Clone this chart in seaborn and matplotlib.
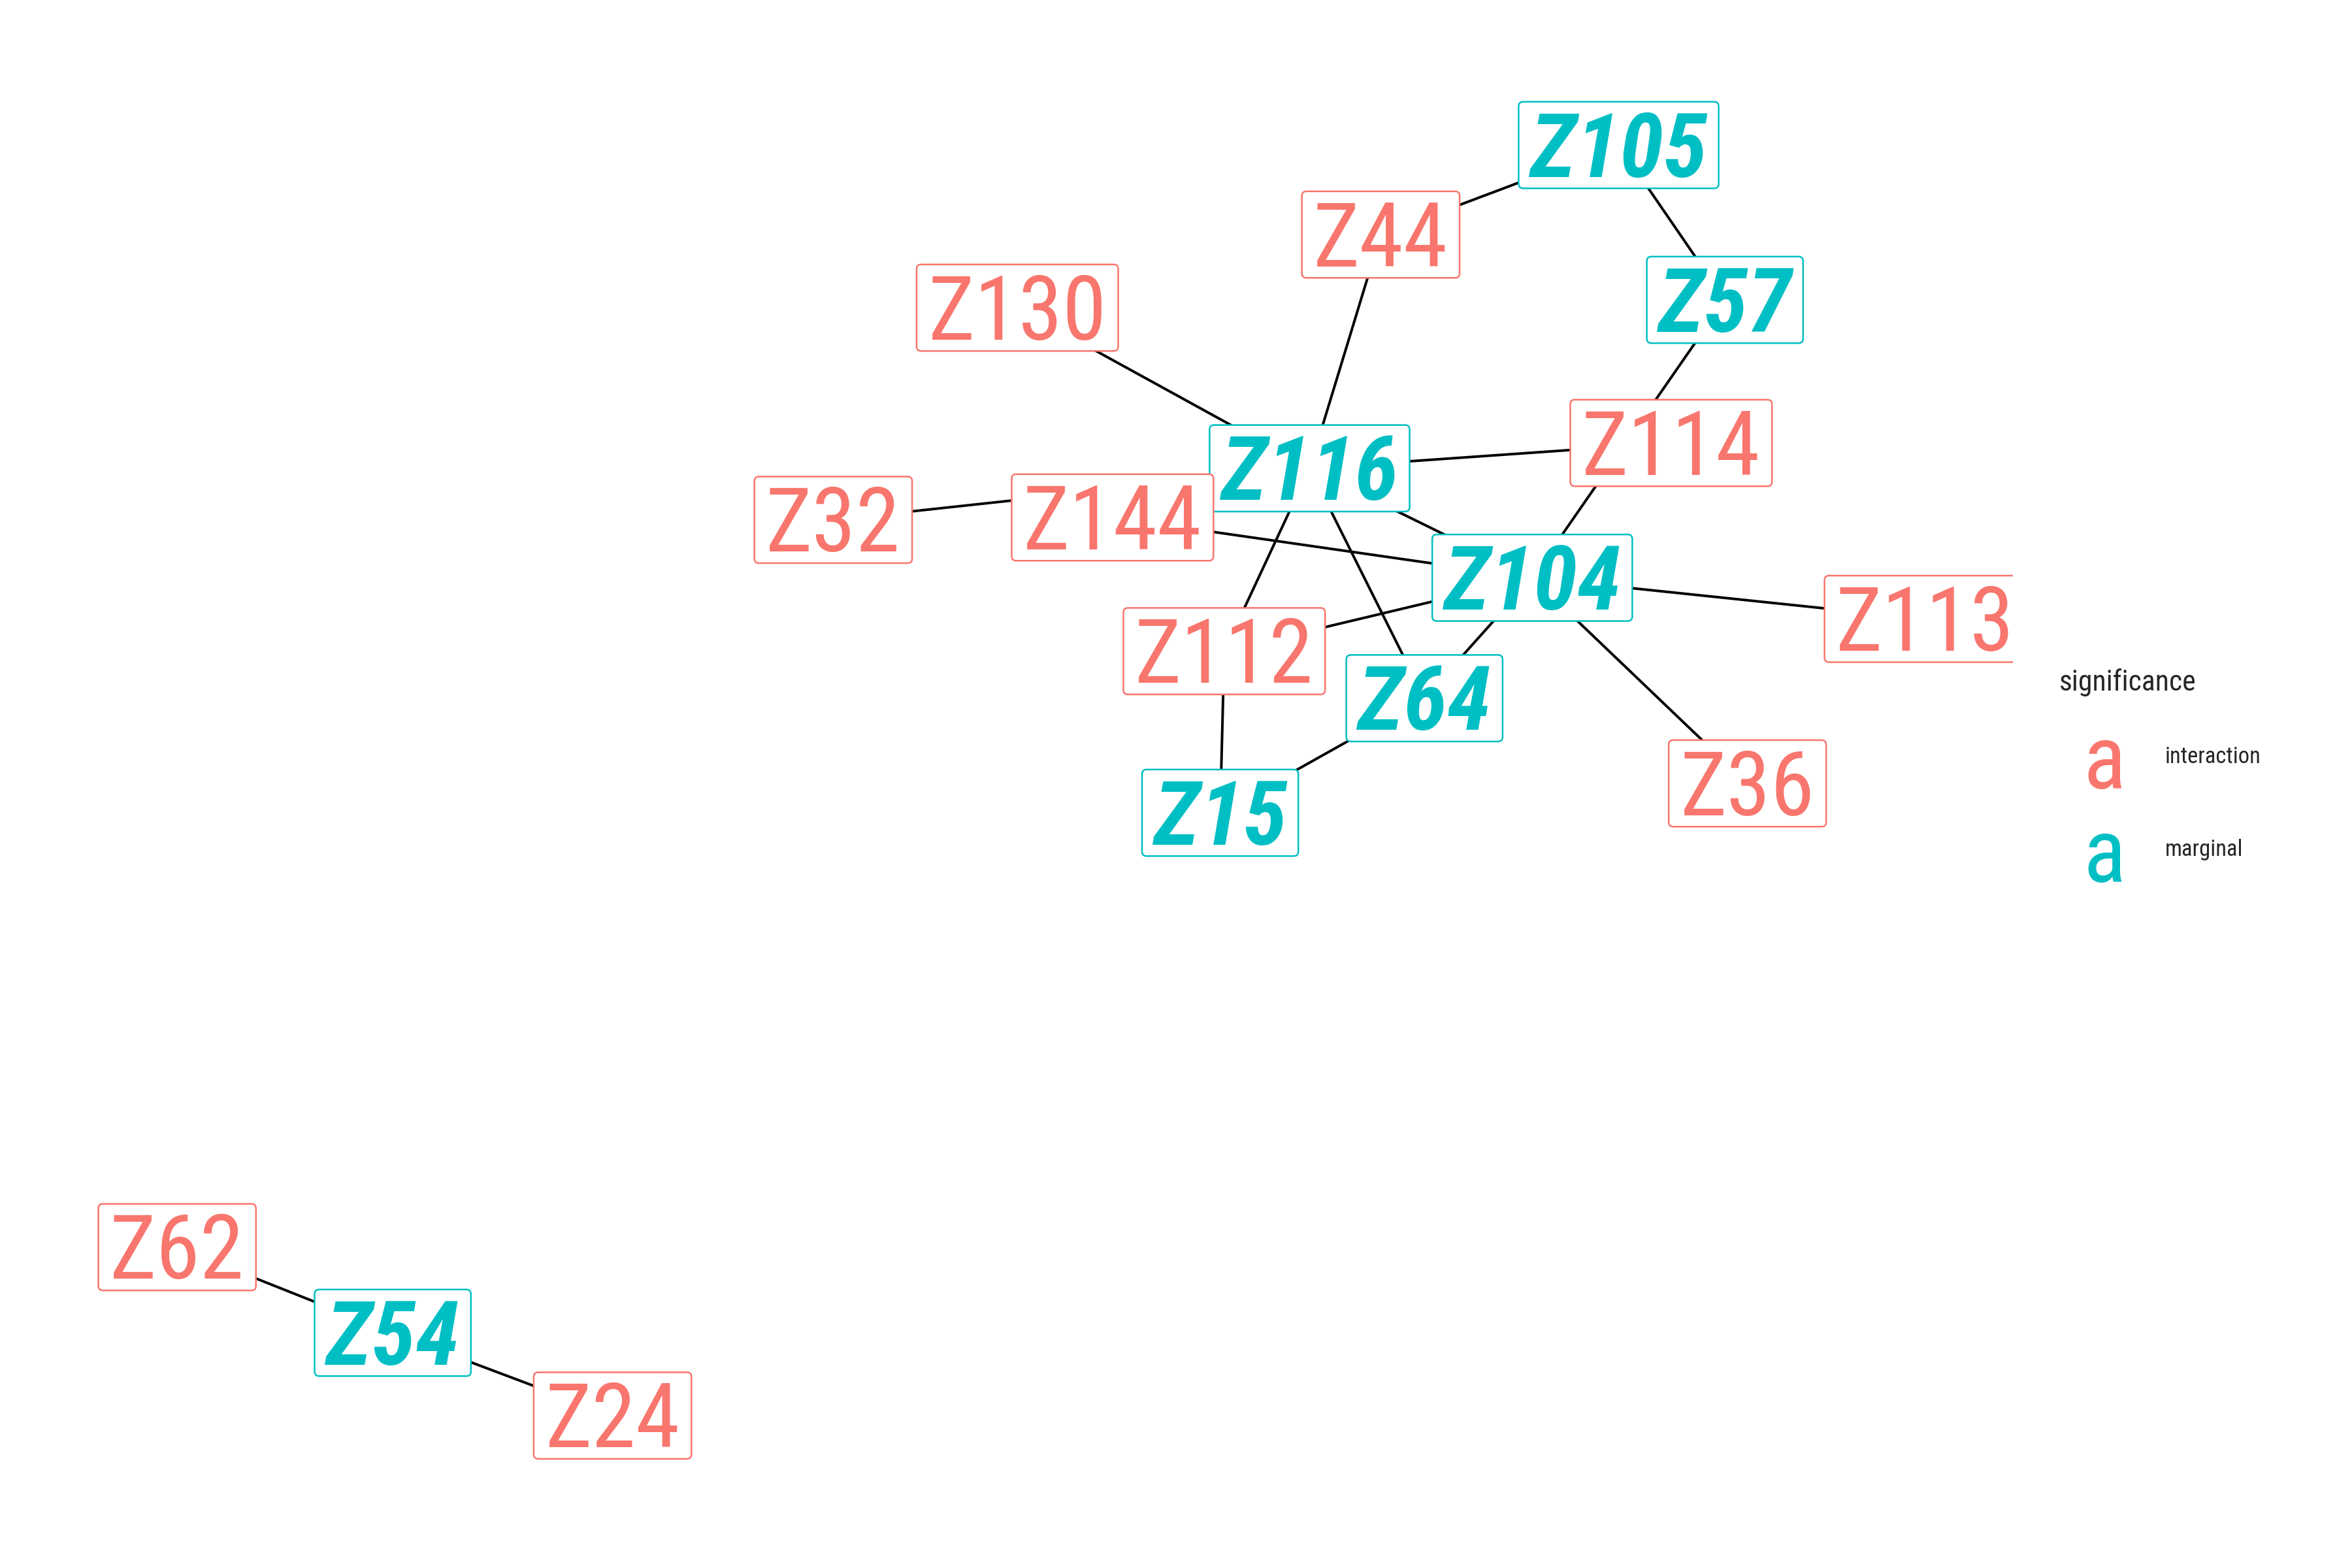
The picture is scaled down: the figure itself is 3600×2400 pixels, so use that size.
import matplotlib
matplotlib.use("Agg")
from matplotlib import pyplot as plt
from matplotlib import font_manager as fm
from matplotlib.patches import FancyBboxPatch
from matplotlib.textpath import TextPath
import pandas as pd
import seaborn as sns

# network nodes (layout coordinates, y grows downwards)
nodes = ["Z105", "Z44", "Z57", "Z130", "Z114", "Z116", "Z32", "Z144", "Z104",
         "Z113", "Z112", "Z64", "Z36", "Z15", "Z62", "Z54", "Z24"]
layout_x = [1073.6, 915.8, 1144.1, 674.8, 1108.4, 868.6, 552.7, 737.9, 1016.3,
            1277.0, 812.0, 944.8, 1159.0, 809.3, 117.5, 260.5, 406.3]
layout_y = [96.2, 155.6, 198.9, 204.1, 293.8, 310.6, 344.8, 343.2, 383.2,
            410.5, 431.9, 463.1, 519.6, 539.1, 827.2, 884.0, 938.9]
significance = ["marginal", "interaction", "marginal", "interaction", "interaction",
                "marginal", "interaction", "interaction", "marginal", "interaction",
                "interaction", "marginal", "interaction", "marginal", "interaction",
                "marginal", "interaction"]

# edges
edge_from = ["Z44", "Z105", "Z57", "Z104", "Z130", "Z44", "Z116", "Z32", "Z144",
             "Z116", "Z116", "Z116", "Z112", "Z104", "Z104", "Z112", "Z15", "Z62", "Z54"]
edge_to = ["Z105", "Z57", "Z104", "Z64", "Z116", "Z116", "Z114", "Z116", "Z104",
           "Z104", "Z112", "Z64", "Z104", "Z113", "Z36", "Z15", "Z64", "Z54", "Z24"]

levels = ["interaction", "marginal"]
palette = {"interaction": "#F8766D", "marginal": "#00BFC4"}

sns.set_theme(style="white")
plt.rcParams["font.family"] = ["Liberation Sans", "DejaVu Sans"]


# the reference uses a narrow sans; look for a condensed face if one is installed
def condensed_fonts():
    cond = [f for f in fm.fontManager.ttflist
            if "Narrow" in f.name or "Condensed" in f.name
            or str(f.stretch) in ("condensed", "semi-condensed")]
    prefs = ["Liberation Sans Narrow", "Roboto Condensed", "Open Sans Condensed",
             "Noto Sans", "Noto Sans Condensed", "DejaVu Sans", "DejaVu Sans Condensed"]
    for p in prefs:
        faces = [f for f in cond if f.name == p]
        if not faces:
            continue
        reg = [f for f in faces if f.style == "normal" and f.weight in (400, "normal", "regular", "book")]
        bi = [f for f in faces if f.style in ("italic", "oblique")
              and (f.weight in (700, "bold") or (isinstance(f.weight, int) and f.weight >= 700))]
        if reg and bi:
            return fm.FontProperties(fname=reg[0].fname), fm.FontProperties(fname=bi[0].fname)
    return None, None


fp_reg, fp_bi = condensed_fonts()
if fp_reg is None:
    fp_reg = fm.FontProperties(family=["Liberation Sans", "DejaVu Sans"])
    fp_bi = fm.FontProperties(family=["Liberation Sans", "DejaVu Sans"],
                              weight="bold", style="italic")

node_df = pd.DataFrame({"name": nodes, "x": layout_x, "y": layout_y,
                        "significance": significance})
pos = node_df.set_index("name")
rows = []
for i, (a, b) in enumerate(zip(edge_from, edge_to)):
    rows.append({"edge": i, "x": pos.at[a, "x"], "y": pos.at[a, "y"]})
    rows.append({"edge": i, "x": pos.at[b, "x"], "y": pos.at[b, "y"]})
edge_df = pd.DataFrame(rows)

W, H = 1560, 1040      # canvas in layout units
PANEL_W = 1335         # right edge of the panel (labels get clipped there)
DPI = 300
px_per_unit = 3600 / W
units_per_pt = (DPI / 72) / px_per_unit

fig = plt.figure(figsize=(12, 8), dpi=DPI)
ax = fig.add_axes([0, 0, PANEL_W / W, 1])
sns.lineplot(data=edge_df, x="x", y="y", units="edge", estimator=None, sort=False,
             color="black", linewidth=0.95, ax=ax, legend=False, zorder=1)
ax.set_xlim(0, PANEL_W)
ax.set_ylim(H, 0)
ax.set_axis_off()
renderer = fig.canvas.get_renderer()

# font size from the cap height of the reference labels (~23.3 pt),
# but not so big that "Z130" gets much wider than in the reference
cap_ratio = TextPath((0, 0), "Z", size=100, prop=fp_reg).get_extents().height / 100
FS = 23.3 / cap_ratio
probe = fig.text(0, 0, "Z130", fontproperties=fp_reg, fontsize=FS)
probe_w = probe.get_window_extent(renderer).width / px_per_unit
probe.remove()
FS = min(FS, FS * 122.0 / probe_w)
cap_pt = cap_ratio * FS

box_h = 57.4           # label box height (layout units)
pad = 7.6
for _, r in node_df.iterrows():
    col = palette[r["significance"]]
    fp = fp_bi if r["significance"] == "marginal" else fp_reg
    t = ax.annotate(r["name"], (r["x"], r["y"]), xytext=(0, -cap_pt / 2),
                    textcoords="offset points", ha="center", va="baseline",
                    fontproperties=fp, fontsize=FS, color=col,
                    zorder=4, annotation_clip=False)
    t.set_clip_on(True)
    w = t.get_window_extent(renderer).width / px_per_unit
    box = FancyBboxPatch((r["x"] - w / 2 - pad, r["y"] - box_h / 2),
                         w + 2 * pad, box_h,
                         boxstyle="round,pad=0,rounding_size=3",
                         fc="white", ec=col, lw=0.6, zorder=3)
    ax.add_patch(box)

# legend
fig.text(1366 / W, 1 - 458 / H, "significance", fontproperties=fp_reg,
         fontsize=10.5, ha="left", va="baseline")
for lvl, key_y, lab_y in zip(levels, [523, 585], [506, 567.7]):
    fig.text(1396 / W, 1 - key_y / H, "a", fontproperties=fp_reg, fontsize=FS,
             color=palette[lvl], ha="center", va="baseline")
    fig.text(1436 / W, 1 - lab_y / H, lvl, fontproperties=fp_reg, fontsize=8.3,
             ha="left", va="baseline")

fig.savefig("out.png", dpi=DPI, facecolor="white")
